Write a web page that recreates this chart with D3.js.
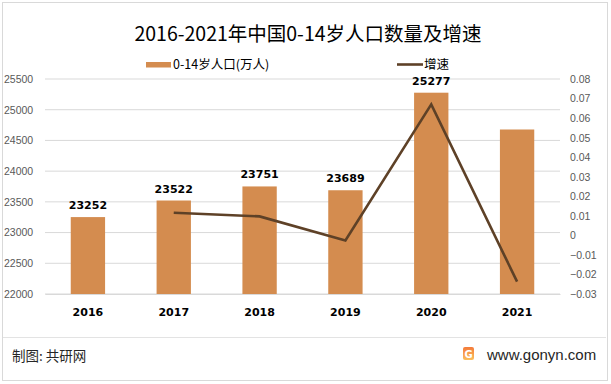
<!DOCTYPE html>
<html><head><meta charset="utf-8">
<script src="https://cdn.jsdelivr.net/npm/d3@7"></script>
<style>body{margin:0;background:#fff;}svg{display:block;font-family:"Noto Sans CJK SC","Microsoft YaHei",sans-serif;}</style>
</head><body>
<script>
const years = ["2016","2017","2018","2019","2020","2021"];
const population = [23252, 23522, 23751, 23689, 25277, 24678];
const growth = [null, 0.0116, 0.0097, -0.0026, 0.0670, -0.0237];
const leftTicks = [22000,22500,23000,23500,24000,24500,25000,25500];
const rightTicks = [-0.03,-0.02,-0.01,0,0.01,0.02,0.03,0.04,0.05,0.06,0.07,0.08];
const showLabel = [true,true,true,true,true,false];

const W=611,H=384;
const svg=d3.select("body").append("svg").attr("width",W).attr("height",H);
svg.append("rect").attr("x",2.5).attr("y",2.5).attr("width",W-6).attr("height",H-6).attr("fill","#fff").attr("stroke","#d9d9d9");

const x=d3.scaleBand().domain(years).range([45,560]).paddingInner(0.6).paddingOuter(0.3);
const yL=d3.scaleLinear().domain([22000,25500]).range([294,79]);
const yR=d3.scaleLinear().domain([-0.03,0.08]).range([294,79]);

// gridlines
svg.append("g").selectAll("line").data(leftTicks).join("line")
  .attr("x1",45).attr("x2",560).attr("y1",d=>yL(d)).attr("y2",d=>yL(d))
  .attr("stroke","#d9d9d9").attr("stroke-width",1);

// axes
const axL=svg.append("g").attr("transform","translate(45,0)")
  .call(d3.axisLeft(yL).tickValues(leftTicks).tickSize(0).tickPadding(8).tickFormat(d3.format("d")));
axL.select(".domain").remove();
axL.selectAll("text").attr("font-size",10.5).attr("fill","#595959").attr("font-family","'Liberation Sans',Arial,sans-serif").attr("text-anchor","start").attr("x",-41);

const axR=svg.append("g").attr("transform","translate(560,0)")
  .call(d3.axisRight(yR).tickValues(rightTicks).tickSize(0).tickPadding(10).tickFormat(d=>d===0?"0":d3.format(".2f")(d)));
axR.select(".domain").remove();
axR.selectAll("text").attr("font-size",10.5).attr("fill","#595959").attr("font-family","'Liberation Sans',Arial,sans-serif");

const axX=svg.append("g").attr("transform","translate(0,294)")
  .call(d3.axisBottom(x).tickSize(0).tickPadding(14));
axX.select(".domain").attr("stroke","#d9d9d9");
axX.selectAll("text").attr("font-size",11).attr("font-weight","bold").attr("fill","#000").attr("font-family","'DejaVu Sans',sans-serif");

// bars
const data=years.map((y,i)=>({y,p:population[i],g:growth[i],l:showLabel[i]}));
svg.append("g").selectAll("rect").data(data).join("rect")
  .attr("x",d=>x(d.y)).attr("width",x.bandwidth())
  .attr("y",d=>yL(d.p)).attr("height",d=>yL(22000)-yL(d.p))
  .attr("fill","#d48c4f");

svg.append("g").selectAll("text").data(data.filter(d=>d.l)).join("text")
  .attr("x",d=>x(d.y)+x.bandwidth()/2).attr("y",d=>yL(d.p)-8)
  .attr("text-anchor","middle").attr("font-size",11).attr("font-weight","bold")
  .attr("font-family","'DejaVu Sans',sans-serif").attr("fill","#000").text(d=>d.p);

// line
const line=d3.line().defined(d=>d.g!==null).x(d=>x(d.y)+x.bandwidth()/2).y(d=>yR(d.g));
svg.append("path").datum(data).attr("d",line).attr("fill","none")
  .attr("stroke","#5e4127").attr("stroke-width",2.6).attr("stroke-linejoin","miter");

// title
svg.append("text").attr("x",308).attr("y",41).attr("text-anchor","middle")
  .attr("font-size",19.5).attr("fill","#000").text("2016-2021年中国0-14岁人口数量及增速");

// legend
svg.append("rect").attr("x",146).attr("y",62).attr("width",25).attr("height",5.5).attr("fill","#d48c4f");
svg.append("text").attr("x",173).attr("y",69).attr("font-size",12.5).attr("fill","#000").text("0-14岁人口(万人)");
svg.append("line").attr("x1",397).attr("x2",423).attr("y1",64.5).attr("y2",64.5).attr("stroke","#5e4127").attr("stroke-width",2.6);
svg.append("text").attr("x",424).attr("y",69).attr("font-size",12.5).attr("fill","#000").text("增速");

// footer
svg.append("line").attr("x1",3).attr("x2",606).attr("y1",337.5).attr("y2",337.5).attr("stroke","#e3e3e3");
svg.append("text").attr("x",12).attr("y",360.5).attr("font-size",13.5).attr("fill","#262626").text("制图: 共研网");
const grad=svg.append("defs").append("linearGradient").attr("id","lg").attr("x1",0).attr("y1",0).attr("x2",0).attr("y2",1);
grad.append("stop").attr("offset","0%").attr("stop-color","#f47a3a");
grad.append("stop").attr("offset","100%").attr("stop-color","#fbbf5c");
svg.append("rect").attr("x",463).attr("y",347).attr("width",11).attr("height",13).attr("rx",2).attr("fill","url(#lg)");
svg.append("text").attr("x",468.5).attr("y",358).attr("text-anchor","middle").attr("font-size",10).attr("font-weight","bold").attr("fill","#fff").attr("font-family","'DejaVu Sans',sans-serif").text("G");
svg.append("text").attr("x",487).attr("y",359.5).attr("font-size",15).attr("fill","#262626").attr("font-family","'Liberation Sans',Arial,sans-serif").text("www.gonyn.com");
</script>
</body></html>
